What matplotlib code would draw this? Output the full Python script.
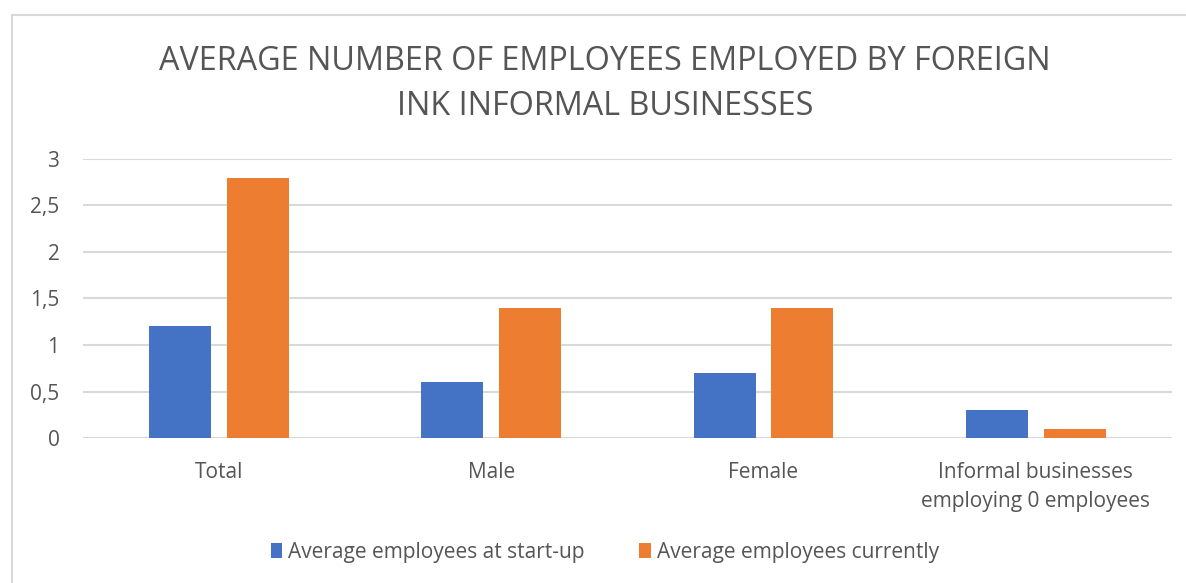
import numpy as np
import matplotlib
matplotlib.use('Agg')
from matplotlib import pyplot as plt
from matplotlib.ticker import FuncFormatter
from matplotlib.patches import Rectangle

categories = ['Total', 'Male', 'Female', 'Informal businesses\nemploying 0 employees']
startup = [1.2, 0.6, 0.7, 0.3]
current = [2.8, 1.4, 1.4, 0.1]
series_names = ['Average employees at start-up', 'Average employees currently']
title = 'AVERAGE NUMBER OF EMPLOYEES EMPLOYED BY FOREIGN\nINK INFORMAL BUSINESSES'

plt.rcParams['font.family'] = ['Open Sans', 'DejaVu Sans']
txt = '#555555'

fig = plt.figure(figsize=(11.86, 5.83), dpi=100)
ax = fig.add_axes([0.070, 0.2487, 0.918, 0.4786])

x = np.arange(len(categories))
w = 0.228
ax.bar(x - 0.143, startup, w, color='#4472C4', label=series_names[0], zorder=3)
ax.bar(x + 0.143, current, w, color='#ED7D31', label=series_names[1], zorder=3)

ax.set_xlim(-0.5, len(categories) - 0.5)
ax.set_ylim(0, 3)
ax.set_yticks(np.arange(0, 3.01, 0.5))
ax.yaxis.set_major_formatter(FuncFormatter(lambda v, p: ('%g' % v).replace('.', ',')))
ax.grid(axis='y', color='#D9D9D9', linewidth=1.5, zorder=0)
for s in ax.spines.values():
    s.set_visible(False)
ax.tick_params(length=0, labelsize=15, labelcolor=txt)
ax.tick_params(axis='y', pad=17)
ax.tick_params(axis='x', pad=17)
ax.set_xticks(x)
ax.set_xticklabels(categories, linespacing=1.55)

fig.text(0.510, 0.856, title, ha='center', va='center', fontsize=23.3,
         color=txt, linespacing=1.5)

fig.legend(loc='center', bbox_to_anchor=(0.51, 0.053), ncol=2, frameon=False,
           fontsize=15, labelcolor=txt, handlelength=0.55, handleheight=0.75,
           handletextpad=0.3, columnspacing=2.6)

fig.patches.append(Rectangle((12 / 1186, -0.1), 1.2, 1 - 15 / 583 + 0.1,
                             transform=fig.transFigure, fill=False,
                             edgecolor='#D9D9D9', linewidth=1.5))

fig.savefig('out.png', dpi=100)
